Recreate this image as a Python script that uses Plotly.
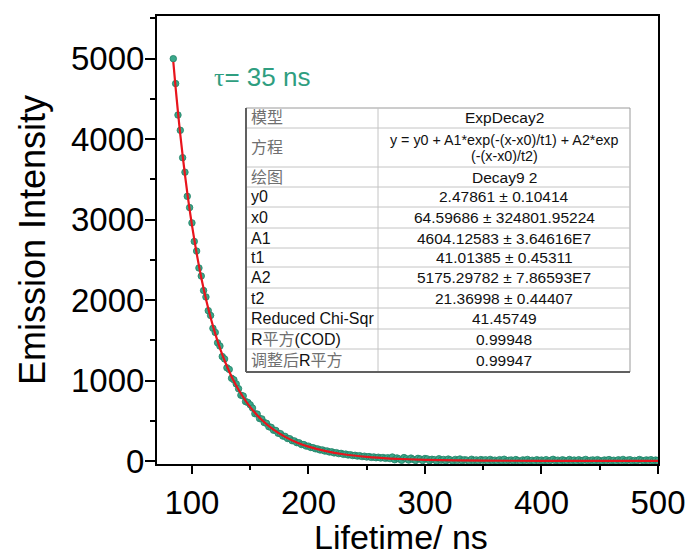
import numpy as np
import plotly.graph_objects as go

# ---------------- data ----------------
time_start, time_step, time_end = 84, 2, 500   # ns, measurement channel grid

intensity_early = [
    5000, 4690, 4300, 4110, 3770, 3590, 3290, 3150, 2960, 2730,
    2610, 2400, 2300, 2120, 2040, 1870, 1810, 1650, 1600, 1470,
    1430, 1300, 1270, 1160, 1140, 1030, 1010, 960, 900, 820,
    810, 740, 730, 700, 660, 590, 585, 530, 525, 480,
    470, 428, 420, 385, 382, 347, 342, 312, 308, 282,
    279, 254, 252, 230, 228, 207, 206, 188, 187, 170,
    168, 154, 152, 139, 140, 126, 127, 114, 116, 103,
    106, 94, 97, 85, 88, 77, 80, 70, 73, 63,
    68, 57, 62, 52, 57, 47, 53, 43, 49, 39,
    46, 35, 43, 32,
]
intensity_tail = [
    52, 18, 40, 27, 11, 45, 30, 14, 38, 22, 9, 35, 26, 8, 33,
    28, 5, 24, 19, -2, 30, 12, 21, 3, 26, 15, 0, 22, 10, 27, 4, 18, 13, -3, 24, 9, 16, 1, 20, 11,
    17, -4, 22, 8, 13, 0, 19, 6, 24, -1, 11, 15, 3, 20, 7, -5, 16, 10, 21, 2, 12, -2, 18, 8, 14,
    4, 19, -3, 11, 23, 6, 13, -4, 17, 9, 1, 21, 7, 14, -2, 18, 5, 12, 22, 0, 10, 16, 3, 19, 8,
    -1, 15, 9, 20, 4, 12, -3, 17, 7, 22, 2, 13, 18, -2, 10, 6, 21, 11, 1, 16, 8, 19, 3, 14, 9,
]
intensity = intensity_early + intensity_tail

fit_time = [84, 86, 88, 90, 92, 94, 96, 98, 100, 104, 108, 112, 116, 120, 125, 130,
            135, 140, 150, 160, 170, 180, 190, 200, 215, 230, 250, 270, 300, 350, 400, 450, 500]
fit_intensity = [4959, 4636, 4336, 4057, 3799, 3558, 3334, 3126, 2932, 2583, 2279, 2015,
                 1784, 1582, 1365, 1179, 1021, 887, 671, 512, 392, 302, 233, 181, 125, 86,
                 53, 33, 17, 7, 4, 3, 3]

tau_label = "<span style='font-family:Liberation Serif'>τ</span>= 35 ns"
x_title = "Lifetime/ ns"
y_title = "Emission Intensity"
x_range = [70, 500]
y_range = [-35, 5530]

table_labels = ["模型", "方程", "绘图", "y0", "x0", "A1", "t1", "A2", "t2",
                "Reduced Chi-Sqr", "R<span style='color:#707070'>平方</span>(COD)",
                "<span style='color:#707070'>调整后</span>R<span style='color:#707070'>平方</span>"]
table_label_grey = [True, True, True] + [False] * 9
table_values = ["ExpDecay2",
                "y = y0 + A1*exp(-(x-x0)/t1) + A2*exp\n(-(x-x0)/t2)",
                "Decay9 2",
                "2.47861 ± 0.10414",
                "64.59686 ± 324801.95224",
                "4604.12583 ± 3.64616E7",
                "41.01385 ± 0.45311",
                "5175.29782 ± 7.86593E7",
                "21.36998 ± 0.44407",
                "41.45749",
                "0.99948",
                "0.99947"]

# ---------------- layout helpers (pixels -> paper) ----------------
W_PX, H_PX = 692, 557
L, R, T, B = 157, 658, 16, 464
PW, PH = R - L, B - T


def px(x):
    return (x - L) / PW


def py(y):
    return (B - y) / PH


teal = "#2f9e80"
red = "#e8141c"
font_main = "Liberation Sans, Arial, sans-serif"
font_tab = "Liberation Sans, Arial, Noto Sans CJK SC, sans-serif"

time = np.arange(time_start, time_end + 1, time_step)
assert len(time) == len(intensity), (len(time), len(intensity))

fig = go.Figure()
fig.add_trace(go.Scatter(
    x=time, y=intensity, mode="markers",
    marker=dict(size=6.5, color="#3aa88a", line=dict(color="#1f8066", width=0.8)),
    showlegend=False, cliponaxis=True,
))
fig.add_trace(go.Scatter(
    x=fit_time, y=fit_intensity, mode="lines",
    line=dict(color=red, width=2.2, shape="spline", smoothing=0.6),
    showlegend=False,
))

# ---------------- table (shapes + annotations) ----------------
tx0, tx1, txc = 246, 630, 378
row_edges = [108, 128, 167, 187, 207, 228, 248, 267, 288, 308, 329, 349, 372]
shapes = []
annotations = []
shapes.append(dict(type="rect", xref="paper", yref="paper", x0=px(tx0), x1=px(tx1),
                   y0=py(row_edges[-1]), y1=py(row_edges[0]), fillcolor="white",
                   line=dict(color="#9a9a9a", width=1), layer="above"))
for e in row_edges[1:-1]:
    shapes.append(dict(type="line", xref="paper", yref="paper", x0=px(tx0), x1=px(tx1),
                       y0=py(e), y1=py(e), line=dict(color="#c4c4c4", width=1), layer="above"))
shapes.append(dict(type="line", xref="paper", yref="paper", x0=px(txc), x1=px(txc),
                   y0=py(row_edges[-1]), y1=py(row_edges[0]),
                   line=dict(color="#c4c4c4", width=1), layer="above"))
shapes.append(dict(type="line", xref="paper", yref="paper", x0=px(tx0), x1=px(tx0),
                   y0=py(row_edges[-1]), y1=py(row_edges[0]),
                   line=dict(color="#606060", width=2), layer="above"))
shapes.append(dict(type="line", xref="paper", yref="paper", x0=px(tx0), x1=px(tx1),
                   y0=py(row_edges[-1]), y1=py(row_edges[-1]),
                   line=dict(color="#606060", width=2), layer="above"))

for i, (lab, val) in enumerate(zip(table_labels, table_values)):
    yc = (row_edges[i] + row_edges[i + 1]) / 2
    annotations.append(dict(
        xref="paper", yref="paper", x=px(tx0 + 3), y=py(yc), xanchor="left", yanchor="middle",
        text=lab, showarrow=False,
        font=dict(family=font_tab, size=16, color="#707070" if table_label_grey[i] else "#111111"),
    ))
    lines = val.split("\n")
    n = len(lines)
    for j, ln in enumerate(lines):
        yl = yc + (j - (n - 1) / 2) * 16
        annotations.append(dict(
            xref="paper", yref="paper", x=px((txc + tx1) / 2), y=py(yl),
            xanchor="center", yanchor="middle", text=ln, showarrow=False,
            font=dict(family=font_tab, size=14.3 if n > 1 else 15.5, color="#111111"),
        ))

annotations.append(dict(
    xref="paper", yref="paper", x=px(262), y=py(77), xanchor="center", yanchor="middle",
    text=tau_label, showarrow=False, font=dict(family=font_main, size=26, color=teal),
))
# x-axis title placed explicitly below the tick labels
annotations.append(dict(
    xref="paper", yref="paper", x=px(401), y=py(537), xanchor="center", yanchor="middle",
    text=x_title, showarrow=False, font=dict(family=font_main, size=34, color="black"),
))

axis_common = dict(
    showline=True, linewidth=2, linecolor="black", mirror=True,
    ticks="outside", tickwidth=2, tickcolor="black",
    showgrid=False, zeroline=False, automargin=False,
    tickfont=dict(family=font_main, size=33, color="black"),
)

fig.update_layout(
    width=W_PX, height=H_PX,
    margin=dict(l=L, r=W_PX - R, t=T, b=H_PX - B),
    paper_bgcolor="white", plot_bgcolor="white",
    shapes=shapes, annotations=annotations,
    xaxis=dict(range=x_range, dtick=100, tick0=0, ticklen=8,
               minor=dict(ticks="outside", ticklen=4, tickwidth=2, dtick=50, tickcolor="black"),
               **axis_common),
    yaxis=dict(range=y_range, dtick=1000, tick0=0, ticklen=10, ticklabelstandoff=-6,
               minor=dict(ticks="outside", ticklen=5, tickwidth=2, dtick=500, tickcolor="black"),
               title=dict(text=y_title, font=dict(family=font_main, size=36, color="black"),
                          standoff=14),
               **axis_common),
)

fig.write_html("out.html")
